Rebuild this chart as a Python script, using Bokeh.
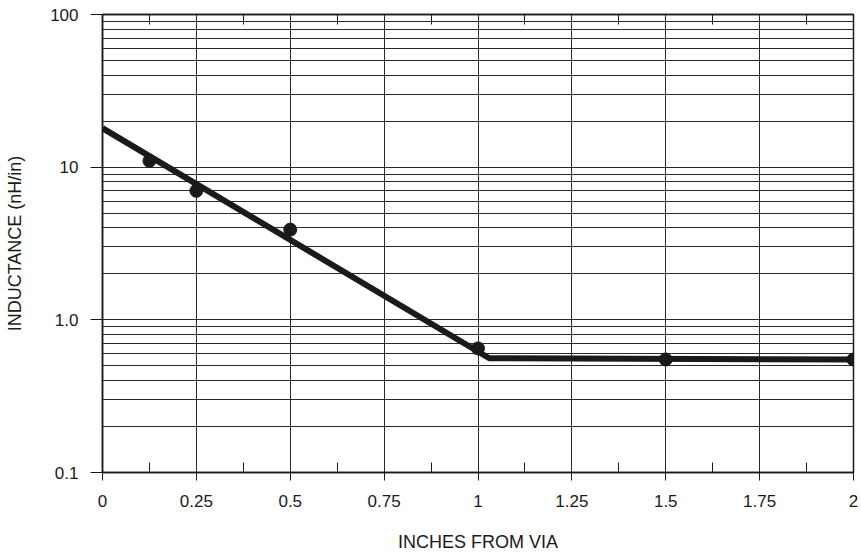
from bokeh.plotting import figure
from bokeh.models import Range1d, FixedTicker, LinearAxis, CustomJSTickFormatter
from bokeh.embed import file_html
from bokeh.resources import INLINE

# measured points
pt_x = [0.125, 0.25, 0.5, 1.0, 1.5, 2.0]
pt_y = [11.0, 7.0, 3.9, 0.65, 0.55, 0.55]
# fitted line
fit_x = [0.0, 1.03, 2.0]
fit_y = [18.0, 0.56, 0.55]

x_ticks = [0, 0.25, 0.5, 0.75, 1.0, 1.25, 1.5, 1.75, 2.0]
x_minor = [0.125, 0.375, 0.625, 0.875, 1.125, 1.375, 1.625, 1.875]
y_ticks = [0.1, 1, 10, 100]
y_minor = [0.2, 0.3, 0.4, 0.5, 0.6, 0.7, 0.8, 0.9,
           2, 3, 4, 5, 6, 7, 8, 9,
           20, 30, 40, 50, 60, 70, 80, 90]

FONT = "Liberation Sans"
INK = "#1a1a1a"

p = figure(width=861, height=554, output_backend="svg", toolbar_location=None,
           y_axis_type="log", x_range=Range1d(0, 2), y_range=Range1d(0.1, 100),
           min_border_left=102, min_border_right=8, min_border_top=14, min_border_bottom=82)

p.outline_line_color = INK
p.outline_line_width = 1.5
p.background_fill_color = "white"
p.border_fill_color = "white"

xt = FixedTicker(ticks=x_ticks, minor_ticks=x_minor)
yt = FixedTicker(ticks=y_ticks, minor_ticks=y_minor)

p.xaxis.ticker = xt
p.yaxis.ticker = yt
p.xgrid.ticker = xt
p.ygrid.ticker = yt

p.xaxis.formatter = CustomJSTickFormatter(code="""
const m = {0:'0',0.25:'0.25',0.5:'0.5',0.75:'0.75',1:'1',1.25:'1.25',1.5:'1.5',1.75:'1.75',2:'2'};
return (tick in m) ? m[tick] : tick.toString();
""")
p.yaxis.formatter = CustomJSTickFormatter(code="""
if (Math.abs(tick - 1) < 1e-9) return '1.0';
if (tick < 1) return tick.toFixed(1);
return tick.toFixed(0);
""")

for g in (p.xgrid, p.ygrid):
    g.grid_line_color = "#2a2a2a"
    g.grid_line_width = 1
    g.grid_line_alpha = 1.0
p.ygrid.minor_grid_line_color = "#2a2a2a"
p.ygrid.minor_grid_line_width = 1

ax = p.xaxis[0]
ax.axis_line_color = INK
ax.axis_line_width = 1.5
ax.major_tick_line_color = INK
ax.major_tick_out = 8
ax.major_tick_in = 0
ax.minor_tick_line_color = INK
ax.minor_tick_in = 10
ax.minor_tick_out = 0
ax.major_label_text_font = FONT
ax.major_label_text_font_size = "17px"
ax.major_label_text_color = INK
ax.major_label_standoff = 14
ax.axis_label = "INCHES FROM VIA"
ax.axis_label_text_font = FONT
ax.axis_label_text_font_size = "18px"
ax.axis_label_text_font_style = "normal"
ax.axis_label_text_color = INK
ax.axis_label_standoff = 22

ay = p.yaxis[0]
ay.axis_line_color = INK
ay.axis_line_width = 1.5
ay.major_tick_line_color = INK
ay.major_tick_out = 12
ay.major_tick_in = 0
ay.minor_tick_line_color = None
ay.major_label_text_font = FONT
ay.major_label_text_font_size = "17px"
ay.major_label_text_color = INK
ay.major_label_standoff = 12
ay.axis_label = "INDUCTANCE (nH/in)"
ay.axis_label_text_font = FONT
ay.axis_label_text_font_size = "18px"
ay.axis_label_text_font_style = "normal"
ay.axis_label_text_color = INK
ay.axis_label_standoff = 22

top = LinearAxis(ticker=xt, axis_line_color=INK, axis_line_width=1.5,
                 major_tick_in=0, major_tick_out=0, major_tick_line_color=None,
                 minor_tick_in=10, minor_tick_out=0, minor_tick_line_color=INK,
                 major_label_text_font_size="0px", major_label_text_alpha=0)
p.add_layout(top, "above")

p.line(fit_x, fit_y, line_color=INK, line_width=6)
p.scatter(pt_x, pt_y, size=13, fill_color=INK, line_color=INK)

open("out.html", "w").write(file_html(p, INLINE))
